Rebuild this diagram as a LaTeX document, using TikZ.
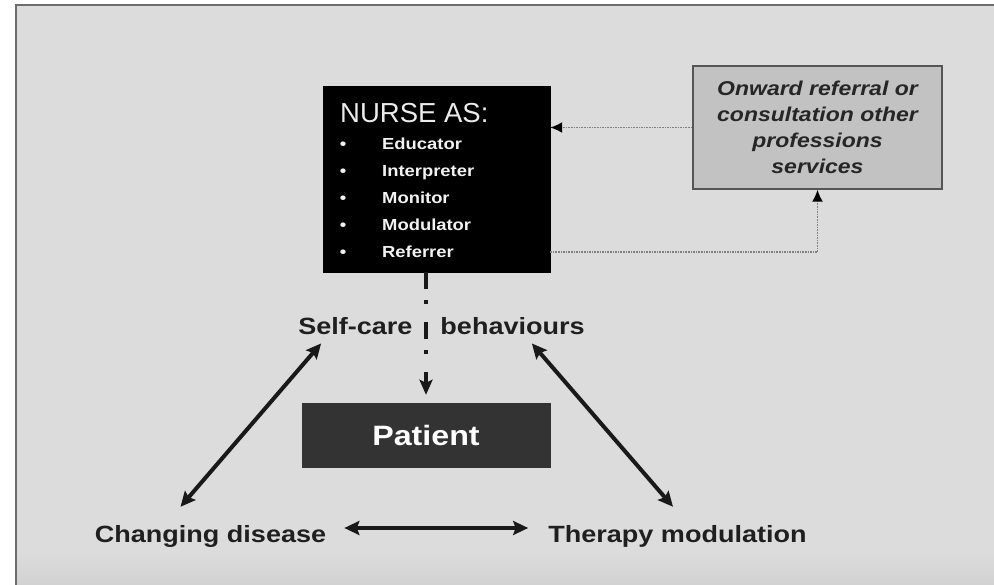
\documentclass[tikz,border=0pt]{standalone}
\usepackage{fontspec}
\setmainfont{Liberation Sans}
\newfontfamily\bw{Liberation Sans}[FakeStretch=1.15]
\usetikzlibrary{arrows.meta,calc}
\definecolor{bgc}{HTML}{DCDCDC}
\definecolor{greyfill}{HTML}{C2C2C2}
\definecolor{greyedge}{HTML}{555555}
\definecolor{patfill}{HTML}{333333}
\definecolor{dotc}{HTML}{808080}
\tikzset{
  nursebox/.style={draw=black, fill=black, inner sep=0pt},
  greybox/.style={draw=greyedge, line width=1.5pt, fill=greyfill, inner sep=0pt, align=center,
    font=\bw\bfseries\itshape\fontsize{20}{26}\selectfont, text=black!85},
  patientbox/.style={draw=patfill, fill=patfill, inner sep=0pt, text=white,
    font=\bw\bfseries\fontsize{28}{32}\selectfont},
  headtxt/.style={anchor=base west, inner sep=0pt, text=white!92!black,
    font=\fontsize{27.5}{30}\selectfont},
  itemtxt/.style={anchor=base west, inner sep=0pt, text=white!95!black,
    font=\bw\bfseries\fontsize{16}{19}\selectfont},
  bullettxt/.style={anchor=base, inner sep=0pt, text=white!95!black,
    font=\bw\bfseries\fontsize{16}{19}\selectfont},
  labtxt/.style={anchor=base, inner sep=0pt, text=black!88,
    font=\bw\bfseries\fontsize{23.5}{27}\selectfont},
  boldarrow/.style={line width=4pt, black!90,
    {Stealth[length=15pt,width=14pt,inset=2.5pt]}-{Stealth[length=15pt,width=14pt,inset=2.5pt]}},
  dashcon/.style={line width=4pt, black!90, dash pattern=on 17pt off 11pt on 4pt off 18pt,
    -{Stealth[length=15pt,width=13pt,inset=3pt]}},
  dotcon/.style={dotc, line width=1.6pt, densely dotted,
    -{Latex[length=12pt,width=11pt,black]}},
}
\begin{document}
\begin{tikzpicture}[x=1pt,y=-1pt]
\useasboundingbox (0,0) rectangle (994,585);
\fill[white] (0,0) rectangle (994,585);
\begin{scope}
  \clip (0,0) rectangle (994,585);
  \fill[bgc] (16,5) rectangle (1010,600);
  \shade[top color=bgc, bottom color=bgc!93!black] (17,552) rectangle (1010,600);
  \draw[line width=2pt, gray!85!black] (16,600) -- (16,5) -- (1010,5);
\end{scope}

% nurse box
\node[nursebox, minimum width=227pt, minimum height=186pt] (nurse) at (436.5,179) {};
\node[headtxt] (head) at (340,123) {NURSE AS:};
\node[bullettxt] (b1) at (343,150) {•};
\node[bullettxt] (b2) at (343,177) {•};
\node[bullettxt] (b3) at (343,204) {•};
\node[bullettxt] (b4) at (343,231) {•};
\node[bullettxt] (b5) at (343,258) {•};
\node[itemtxt] (edu) at (382,150) {Educator};
\node[itemtxt] (int) at (382,177) {Interpreter};
\node[itemtxt] (mon) at (382,204) {Monitor};
\node[itemtxt] (mod) at (382,231) {Modulator};
\node[itemtxt] (ref) at (382,258) {Referrer};

% grey box
\node[greybox, minimum width=249pt, minimum height=123pt] (grey) at (817.5,127.5)
  {Onward referral or\\consultation other\\professions\\services};

% patient
\node[patientbox, minimum width=248pt, minimum height=64pt] (patient) at (426,435) {Patient};

% labels
\node[labtxt] (sc) at (441.5,335) {Self-care\hspace{28pt}behaviours};
\node[labtxt] (cd) at (210.5,542) {Changing disease};
\node[labtxt] (tm) at (677.5,542) {Therapy modulation};

% connectors
\draw[dotcon] (grey.west) -- (grey.west -| nurse.east);
\draw[dotcon] (ref -| nurse.east) -| (grey.south);
\draw[dashcon] (patient.north |- nurse.south) -- ([yshift=8pt]patient.north);
\draw[boldarrow] ([xshift=-30pt,yshift=18pt]cd.north) -- ([xshift=23pt,yshift=-8pt]sc.south west);
\draw[boldarrow] ([xshift=-53pt,yshift=-8pt]sc.south east) -- ([xshift=-4.5pt,yshift=18pt]tm.north);
\draw[boldarrow] ([xshift=18pt,yshift=14pt]cd.base east) -- ([xshift=-20pt,yshift=14pt]tm.base west);
\end{tikzpicture}
\end{document}
